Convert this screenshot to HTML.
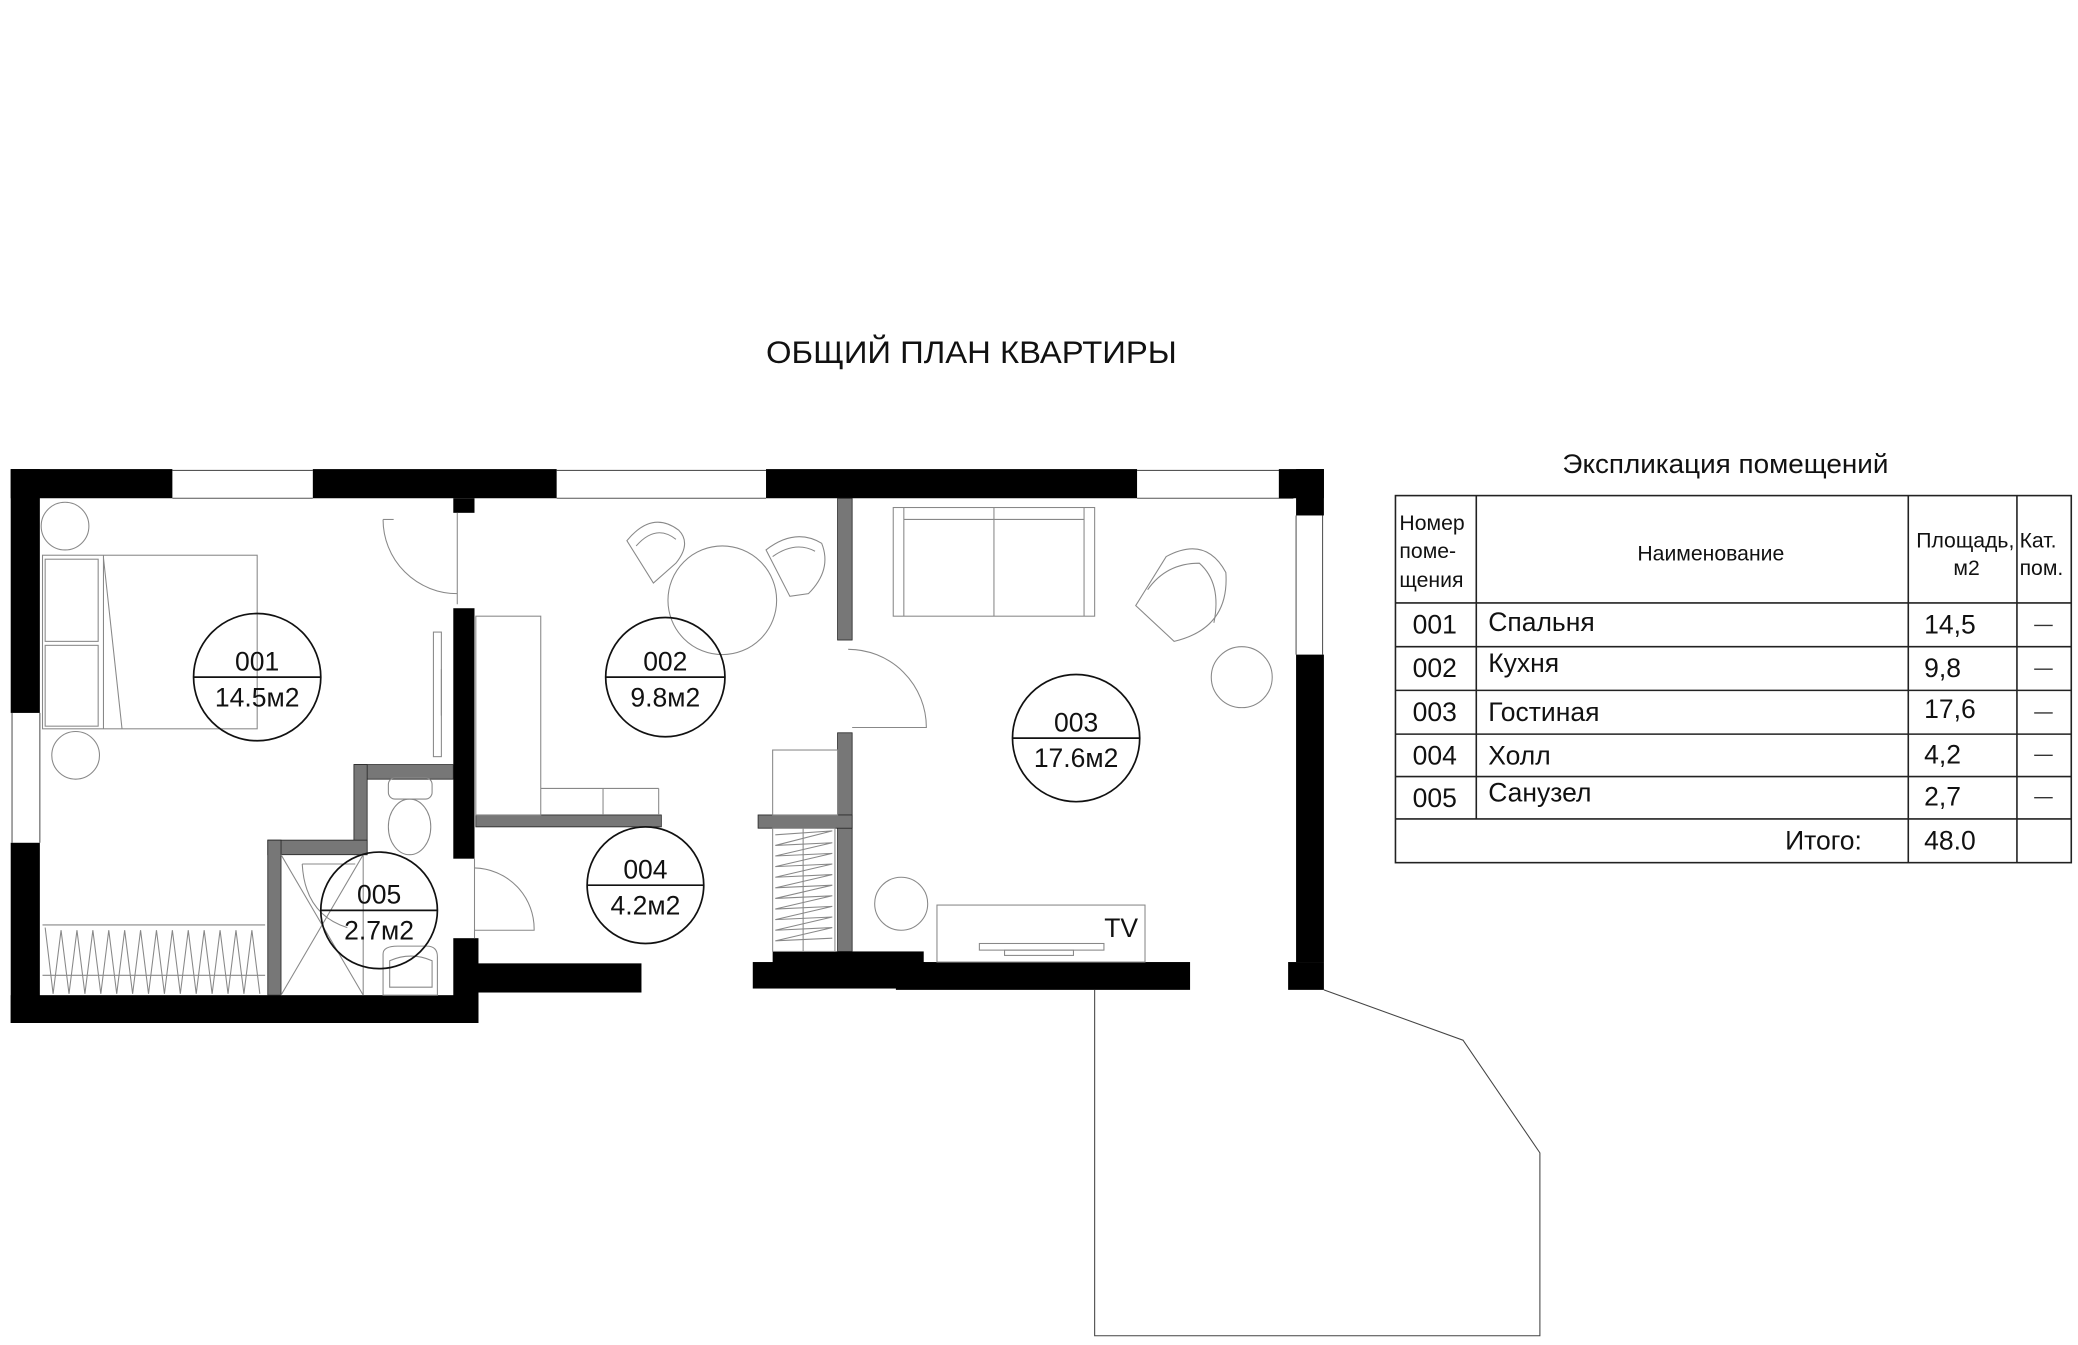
<!DOCTYPE html>
<html><head><meta charset="utf-8"><style>
html,body{margin:0;padding:0;background:#fff;}
svg{display:block;}
text{font-family:"Liberation Sans Narrow","Liberation Sans","DejaVu Sans",sans-serif;fill:#111;}
</style></head><body>
<svg width="2078" height="1345" viewBox="0 0 1568 1015" xmlns="http://www.w3.org/2000/svg">
<rect width="1568" height="1015" fill="#fff"/>
<text x="733" y="274" font-size="24" text-anchor="middle" textLength="310" lengthAdjust="spacingAndGlyphs">ОБЩИЙ ПЛАН КВАРТИРЫ</text>

<g stroke="#555" stroke-width="0.8" fill="none">
<line x1="130" y1="355" x2="236" y2="355"/><line x1="130" y1="376" x2="236" y2="376"/>
<line x1="420" y1="355" x2="578" y2="355"/><line x1="420" y1="376" x2="578" y2="376"/>
<line x1="858" y1="355" x2="976" y2="355"/><line x1="858" y1="376" x2="976" y2="376"/>
<line x1="9" y1="538" x2="9" y2="636"/><line x1="30" y1="538" x2="30" y2="636"/>
<line x1="978" y1="389" x2="978" y2="494"/><line x1="998" y1="389" x2="998" y2="494"/>
</g>

<g fill="#000">
<rect x="8" y="354" width="122" height="22"/>
<rect x="236" y="354" width="184" height="22"/>
<rect x="578" y="354" width="280" height="22"/>
<rect x="965" y="354" width="34" height="22"/>
<rect x="978" y="354" width="21" height="35"/>
<rect x="8" y="354" width="22" height="184"/>
<rect x="8" y="636" width="22" height="136"/>
<rect x="8" y="751" width="353" height="21"/>
<rect x="342" y="708" width="19" height="64"/>
<rect x="342" y="459" width="16" height="189"/>
<rect x="342" y="376" width="16" height="11"/>
<rect x="359" y="727" width="125" height="22"/>
<rect x="978" y="494" width="21" height="232"/>
<rect x="972" y="726" width="27" height="21"/>
<rect x="568" y="726" width="130" height="20"/>
<rect x="583" y="718" width="114" height="9"/>
<rect x="676" y="726" width="222" height="21"/>
</g>

<g fill="#777" stroke="#222" stroke-width="0.6">
<rect x="267" y="577" width="75" height="11"/>
<rect x="267" y="577" width="10" height="68"/>
<rect x="202" y="634" width="75" height="11"/>
<rect x="202" y="634" width="10" height="117"/>
<rect x="359" y="615" width="140" height="9"/>
<rect x="632" y="376" width="11" height="107"/>
<rect x="632" y="553" width="11" height="165"/>
<rect x="572" y="615" width="71" height="10"/>
</g>

<g stroke="#888" stroke-width="0.8" fill="none">
<circle cx="49" cy="397" r="18"/>
<circle cx="57" cy="570" r="18"/>
<rect x="32" y="419" width="162" height="131"/>
<rect x="34" y="422" width="40" height="62"/>
<rect x="34" y="487" width="40" height="61"/>
<line x1="78" y1="419" x2="78" y2="550"/>
<line x1="78" y1="421" x2="92" y2="550"/>
<rect x="327" y="477" width="6" height="94"/>
<line x1="333" y1="505" x2="333" y2="540"/>
<path d="M289 392 A56 56 0 0 0 345 448"/>
<line x1="345" y1="387" x2="345" y2="456"/>
<line x1="289" y1="392" x2="297" y2="392"/>
<line x1="32" y1="698" x2="200" y2="698"/>
<line x1="32" y1="736" x2="200" y2="736"/>
<path d="M34 700 L40 750 L46 702 L52 750 L58 702 L64 750 L70 702 L76 750 L82 702 L88 750 L94 702 L100 750 L106 702 L112 750 L118 702 L124 750 L130 702 L136 750 L142 702 L148 750 L154 702 L160 750 L166 702 L172 750 L178 702 L184 750 L190 702 L196 750"/>
<rect x="293" y="587" width="33" height="16" rx="5"/>
<ellipse cx="309" cy="624" rx="16" ry="21"/>
<path d="M289 720 Q289 714 300 714 L322 714 Q330 714 330 722 L330 751 L289 751 Z"/>
<path d="M294 725 Q310 718 326 725 L326 745 L294 745 Z"/>
<line x1="212" y1="645" x2="274" y2="751"/>
<line x1="274" y1="645" x2="212" y2="751"/>
<line x1="274" y1="645" x2="274" y2="751"/>
<path d="M228 652 L268 652 M228 652 Q230 690 262 700"/>
<path d="M358 655 A46 46 0 0 1 403 702 L358 702"/>
<line x1="358" y1="648" x2="358" y2="708"/>
<rect x="359" y="465" width="49" height="150"/>
<line x1="408" y1="595" x2="497" y2="595"/>
<line x1="455" y1="595" x2="455" y2="615"/>
<line x1="497" y1="595" x2="497" y2="615"/>
<circle cx="545" cy="453" r="41"/>
<path d="M473 408 Q492 385 512 400 Q522 410 510 425 L493 440 Z"/>
<path d="M480 412 Q495 395 510 407"/>
<path d="M578 415 Q600 398 620 410 Q628 430 610 448 L596 450 Z"/>
<path d="M583 420 Q600 408 615 416"/>
<rect x="674" y="383" width="152" height="82"/>
<line x1="682" y1="383" x2="682" y2="465"/><line x1="818" y1="383" x2="818" y2="465"/>
<line x1="682" y1="392" x2="818" y2="392"/>
<line x1="750" y1="383" x2="750" y2="465"/>
<path d="M857 457 L886 484 Q928 474 925 432 Q910 404 880 420 Z"/>
<path d="M866 445 Q880 425 905 425 Q922 440 916 470"/>
<circle cx="937" cy="511" r="23"/>
<circle cx="680" cy="682" r="20"/>
<rect x="707" y="683" width="157" height="43"/>
<rect x="739" y="712" width="94" height="5"/>
<rect x="758" y="717" width="52" height="4"/>
<path d="M640 490 A59 59 0 0 1 699 549 L643 549"/>
<rect x="583" y="566" width="49" height="49"/>
<rect x="583" y="625" width="47" height="93"/>
<line x1="606" y1="625" x2="606" y2="718"/>
<path d="M585 630 L628 627 L585 638 L628 636 L585 646 L628 644 L585 654 L628 652 L585 662 L628 660 L585 670 L628 668 L585 678 L628 676 L585 686 L628 684 L585 694 L628 692 L585 702 L628 700 L585 710 L628 708"/>
<path d="M826 747 L826 1008 L1162 1008 L1162 870 L1104 785 L999 747" stroke="#444"/>
</g>

<g stroke="#111" stroke-width="1.3" fill="none">
<circle cx="194" cy="511" r="48"/><line x1="146" y1="511" x2="242" y2="511"/>
<circle cx="502" cy="511" r="45"/><line x1="457" y1="511" x2="547" y2="511"/>
<circle cx="812" cy="557" r="48"/><line x1="764" y1="557" x2="860" y2="557"/>
<circle cx="487" cy="668" r="44"/><line x1="443" y1="668" x2="531" y2="668"/>
<circle cx="286" cy="687" r="44"/><line x1="242" y1="687" x2="330" y2="687"/>
</g>
<g font-size="20" text-anchor="middle">
<text x="194" y="506">001</text><text x="194" y="533">14.5м2</text>
<text x="502" y="506">002</text><text x="502" y="533">9.8м2</text>
<text x="812" y="552">003</text><text x="812" y="579">17.6м2</text>
<text x="487" y="663">004</text><text x="487" y="690">4.2м2</text>
<text x="286" y="682">005</text><text x="286" y="709">2.7м2</text>
<text x="846" y="707">TV</text>
</g>

<text x="1302" y="357" font-size="20" text-anchor="middle" textLength="246" lengthAdjust="spacingAndGlyphs">Экспликация помещений</text>
<g stroke="#222" stroke-width="1.2" fill="none">
<rect x="1053" y="374" width="510" height="277"/>
<line x1="1114" y1="374" x2="1114" y2="618"/>
<line x1="1440" y1="374" x2="1440" y2="651"/>
<line x1="1522" y1="374" x2="1522" y2="651"/>
<line x1="1053" y1="455" x2="1563" y2="455"/>
<line x1="1053" y1="488" x2="1563" y2="488"/>
<line x1="1053" y1="521" x2="1563" y2="521"/>
<line x1="1053" y1="554" x2="1563" y2="554"/>
<line x1="1053" y1="586" x2="1563" y2="586"/>
<line x1="1053" y1="618" x2="1563" y2="618"/>
</g>
<g font-size="16">
<text x="1056" y="400">Номер</text><text x="1056" y="421">поме-</text><text x="1056" y="443">щения</text>
<text x="1291" y="423" text-anchor="middle">Наименование</text>
<text x="1446" y="413">Площадь,</text><text x="1484" y="434" text-anchor="middle">м2</text>
<text x="1524" y="413">Кат.</text><text x="1524" y="434">пом.</text>
</g>
<g font-size="20">
<text x="1066" y="478">001</text><text x="1123" y="476">Спальня</text><text x="1452" y="478">14,5</text>
<text x="1066" y="511">002</text><text x="1123" y="507">Кухня</text><text x="1452" y="511">9,8</text>
<text x="1066" y="544">003</text><text x="1123" y="544">Гостиная</text><text x="1452" y="542">17,6</text>
<text x="1066" y="577">004</text><text x="1123" y="577">Холл</text><text x="1452" y="576">4,2</text>
<text x="1066" y="609">005</text><text x="1123" y="605">Санузел</text><text x="1452" y="608">2,7</text>
<text x="1405" y="641" text-anchor="end">Итого:</text><text x="1452" y="641">48.0</text>
</g>
<g stroke="#333" stroke-width="1">
<line x1="1535" y1="472" x2="1549" y2="472"/>
<line x1="1535" y1="505" x2="1549" y2="505"/>
<line x1="1535" y1="538" x2="1549" y2="538"/>
<line x1="1535" y1="570" x2="1549" y2="570"/>
<line x1="1535" y1="602" x2="1549" y2="602"/>
</g>
</svg>
</body></html>
